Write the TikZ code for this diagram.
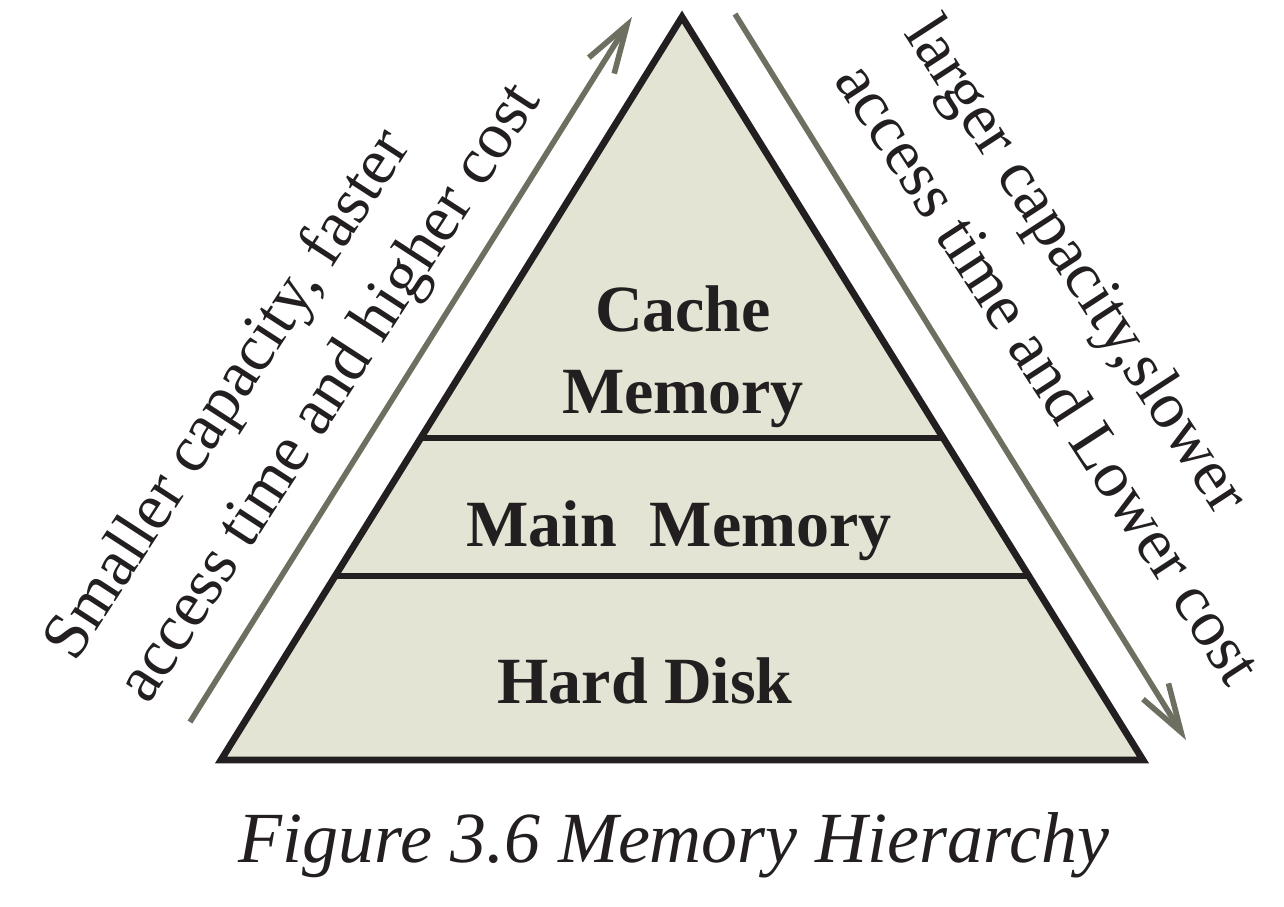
\documentclass[tikz,border=0pt]{standalone}
\usepackage{fontspec}
\setmainfont{Liberation Serif}
\usetikzlibrary{arrows.meta,calc}
\definecolor{pyrfill}{HTML}{E4E4D4}
\definecolor{arrgray}{HTML}{6D6F60}
\definecolor{ink}{HTML}{231F20}

\begin{document}
\begin{tikzpicture}[x=0.5pt, y=-0.5pt,
  level/.style={font=\fontsize{33}{41}\selectfont\bfseries, text=ink, align=center},
  side/.style={font=\fontsize{33}{37}\selectfont, text=ink, inner sep=0pt, anchor=base west},
  trend/.style={draw=arrgray, line width=2.8pt,
    -{Straight Barb[length=24pt, width=15pt, line width=2.8pt]}}]
  \useasboundingbox (0,0) rectangle (1284,906);

  % pyramid
  \coordinate (apex) at (682,17);
  \coordinate (bl) at (221,760);
  \coordinate (br) at (1143,760);
  \draw[ink, line width=3.4pt, fill=pyrfill] (apex) -- (bl) -- (br) -- cycle;
  \draw[ink, line width=3pt] ($(apex)!0.567!(bl)$) -- ($(apex)!0.567!(br)$);
  \draw[ink, line width=3pt] ($(apex)!0.752!(bl)$) -- ($(apex)!0.752!(br)$);

  \node[level] (cache) at (683,357) {Cache\\Memory};
  \node[level, anchor=base] (main) at (679,546) {Main~ Memory};
  \node[level, anchor=base] (disk) at (645,703) {Hard Disk};

  % trends
  \coordinate (up0) at (190,722);
  \coordinate (up1) at (632,17);
  \coordinate (dn0) at (735,14);
  \coordinate (dn1) at (1186,740);
  \draw[trend] (up0) -- (up1);
  \draw[trend] (dn0) -- (dn1);

  \node[side, rotate=57] (small1) at (75,664) {Smaller capacity, faster};
  \node[side, rotate=57] (small2) at (148,706) {access time and higher cost};
  \node[side, rotate=-57] (large1) at (903,33) {larger capacity,slower};
  \node[side, rotate=-57] (large2) at (833,80) {access time and Lower cost};

  \node[anchor=base, text=ink, font=\fontsize{36}{40}\selectfont\itshape] (caption) at (674,862)
    {Figure 3.6 Memory Hierarchy};
\end{tikzpicture}
\end{document}
